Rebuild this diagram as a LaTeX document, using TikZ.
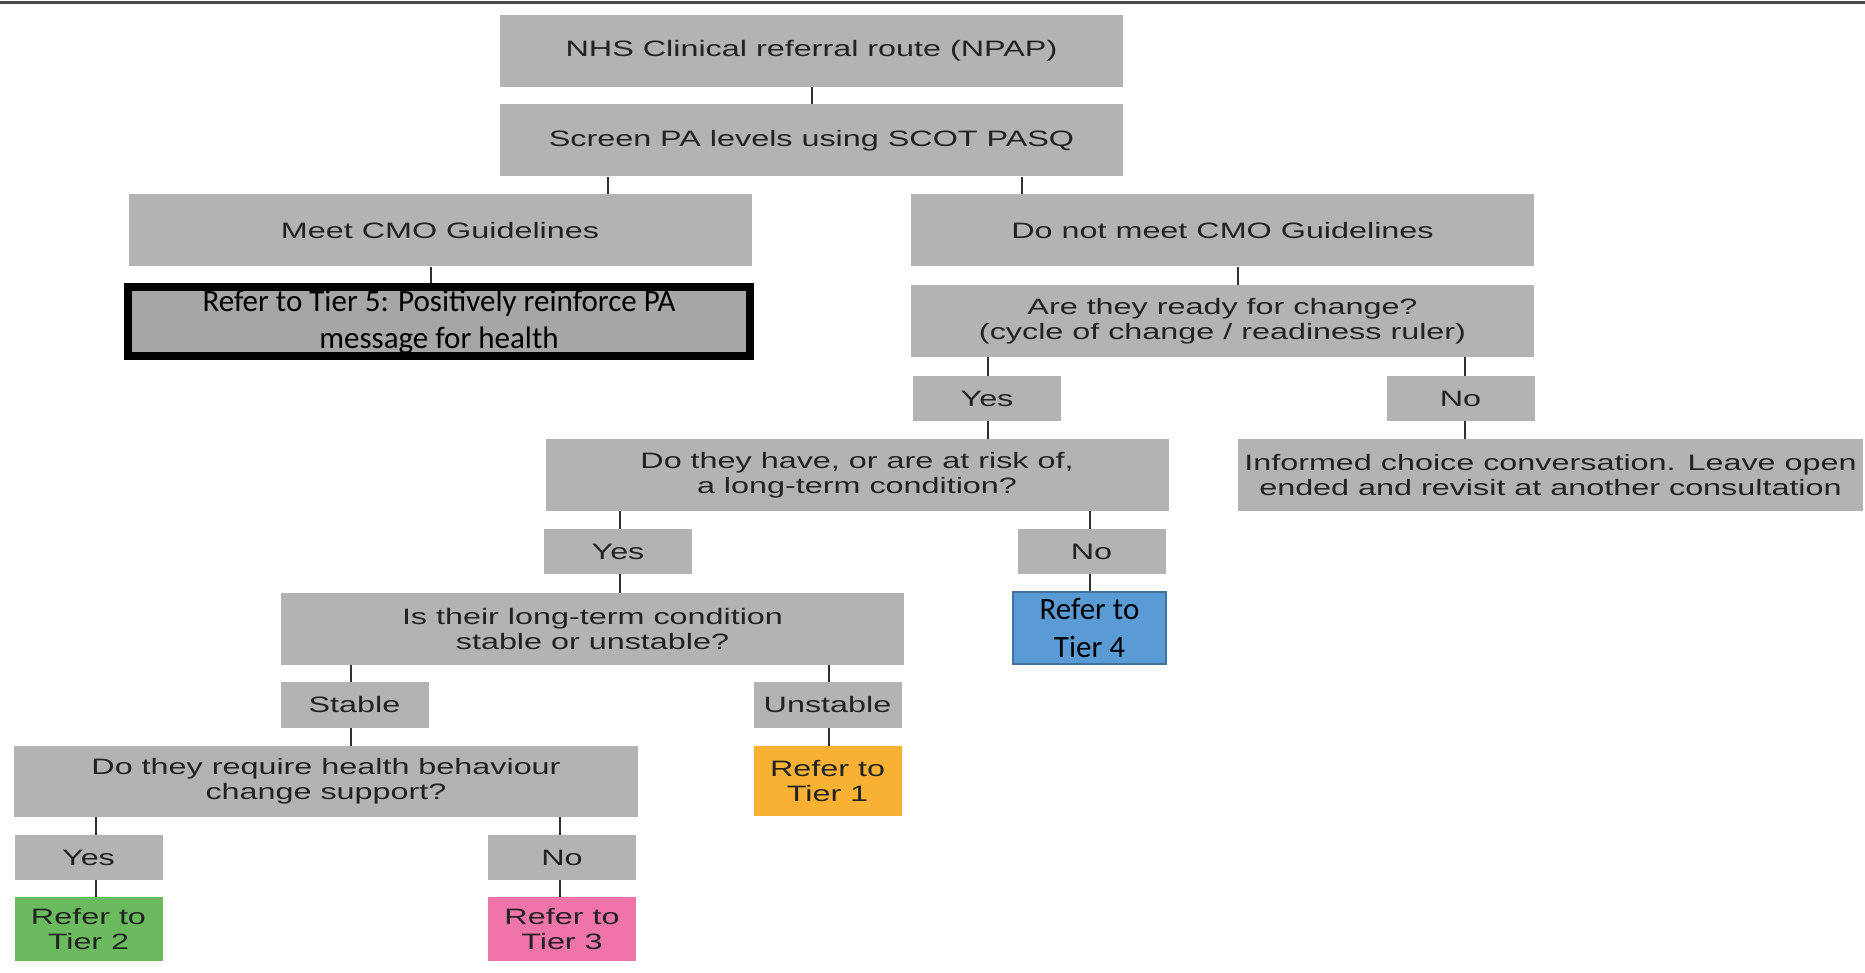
\documentclass[tikz,border=0pt]{standalone}
\usepackage{fontspec}
\newfontfamily\boxfont{Liberation Sans}[FakeStretch=1.45]
\newfontfamily\calfont{Carlito}
\definecolor{boxgray}{HTML}{B3B3B3}
\definecolor{tfivegray}{HTML}{A6A6A6}
\definecolor{textdark}{HTML}{222222}
\definecolor{linkdark}{HTML}{303030}
\definecolor{tierblue}{HTML}{5B9BD5}
\definecolor{tierblueedge}{HTML}{41719C}
\definecolor{tierorange}{HTML}{F8B133}
\definecolor{tiergreen}{HTML}{6BBA5E}
\definecolor{tierpink}{HTML}{EE74AA}
\definecolor{ruledark}{HTML}{4A4A4A}

\begin{document}
\begin{tikzpicture}[x=1pt,y=-1pt,
  box/.style={fill=boxgray, inner sep=0pt, align=center, text=textdark,
    font=\boxfont\fontsize{22.3}{25}\selectfont},
  wide/.style={box, minimum width=623pt, minimum height=72pt},
  small/.style={box, minimum width=148pt, minimum height=45pt},
  tier/.style={box, minimum width=148pt},
  calibox/.style={inner sep=0pt, align=center, text=black,
    font=\calfont\fontsize{31}{38}\selectfont},
  link/.style={draw=linkdark, line width=2.6pt}]

\useasboundingbox (0,0) rectangle (1865,973);
\fill[white] (0,0) rectangle (1865,973);
\draw[ruledark, line width=3pt] (0,3) -- (1865,3);

% decision boxes
\node[wide] (npap) at (811.5,51) {NHS Clinical referral route (NPAP)};
\node[wide] (scr) at (811.5,140.5) {Screen PA levels using SCOT PASQ};
\node[wide] (meet) at (440,230.5) {Meet CMO Guidelines};
\node[wide] (dnm) at (1222.5,230.5) {Do not meet CMO Guidelines};
\node[wide] (ready) at (1222.5,321) {Are they ready for change?\\(cycle of change / readiness ruler)};
\node[small] (yesA) at (987,398.5) {Yes};
\node[small] (noA) at (1460.5,398.5) {No};
\node[wide] (ltc) at (857,475) {Do they have, or are at risk of,\\a long-term condition?};
\node[wide, minimum width=625pt] (inf) at (1550.5,475) {Informed choice conversation. Leave open\\ended and revisit at another consultation};
\node[small] (yesB) at (618,551.5) {Yes};
\node[small] (noB) at (1091.5,551.5) {No};
\node[wide] (stq) at (592.5,629) {Is their long-term condition\\stable or unstable?};
\node[small, minimum height=46pt] (stab) at (354.5,705) {Stable};
\node[small, minimum height=46pt] (unst) at (827.5,705) {Unstable};
\node[wide, minimum width=624pt, minimum height=71pt] (hbq) at (326,781.5) {Do they require health behaviour\\change support?};
\node[small] (yesC) at (88.5,857.5) {Yes};
\node[small] (noC) at (562,857.5) {No};

% referral boxes
\node[calibox, fill=tfivegray, draw=black, line width=8pt,
  minimum width=622pt, minimum height=69pt,
  font=\calfont\fontsize{31}{37}\selectfont] (tfive) at (439,321.5)
  {Refer to Tier 5: Positively reinforce PA\\message for health};
\node[calibox, fill=tierblue, draw=tierblueedge, line width=2pt,
  minimum width=153pt, minimum height=72pt] (tfour) at (1089.5,628) {Refer to\\Tier 4};
\node[tier, fill=tierorange, minimum height=70pt] (tone) at (827.5,781) {Refer to\\Tier 1};
\node[tier, fill=tiergreen, minimum height=64pt] (ttwo) at (88.5,929) {Refer to\\Tier 2};
\node[tier, fill=tierpink, minimum height=64pt] (tthree) at (562,929) {Refer to\\Tier 3};

% connector columns
\coordinate (xa) at (812,0);
\coordinate (xb) at (608,0);
\coordinate (xc) at (1022,0);
\coordinate (xd) at (431,0);
\coordinate (xe) at (1238,0);
\coordinate (xf) at (988,0);
\coordinate (xg) at (1465,0);
\coordinate (xh) at (620,0);
\coordinate (xi) at (1090,0);
\coordinate (xj) at (351,0);
\coordinate (xk) at (829,0);
\coordinate (xl) at (96,0);
\coordinate (xm) at (560,0);

\draw[link] (npap.south -| xa) -- (scr.north -| xa);
\draw[link] (scr.south -| xb) -- (meet.north -| xb);
\draw[link] (scr.south -| xc) -- (dnm.north -| xc);
\draw[link] (meet.south -| xd) -- (tfive.north -| xd);
\draw[link] (dnm.south -| xe) -- (ready.north -| xe);
\draw[link] (ready.south -| xf) -- (yesA.north -| xf);
\draw[link] (ready.south -| xg) -- (noA.north -| xg);
\draw[link] (yesA.south -| xf) -- (ltc.north -| xf);
\draw[link] (noA.south -| xg) -- (inf.north -| xg);
\draw[link] (ltc.south -| xh) -- (yesB.north -| xh);
\draw[link] (ltc.south -| xi) -- (noB.north -| xi);
\draw[link] (yesB.south -| xh) -- (stq.north -| xh);
\draw[link] (noB.south -| xi) -- (tfour.north -| xi);
\draw[link] (stq.south -| xj) -- (stab.north -| xj);
\draw[link] (stq.south -| xk) -- (unst.north -| xk);
\draw[link] (stab.south -| xj) -- (hbq.north -| xj);
\draw[link] (unst.south -| xk) -- (tone.north -| xk);
\draw[link] (hbq.south -| xl) -- (yesC.north -| xl);
\draw[link] (hbq.south -| xm) -- (noC.north -| xm);
\draw[link] (yesC.south -| xl) -- (ttwo.north -| xl);
\draw[link] (noC.south -| xm) -- (tthree.north -| xm);
\end{tikzpicture}
\end{document}
